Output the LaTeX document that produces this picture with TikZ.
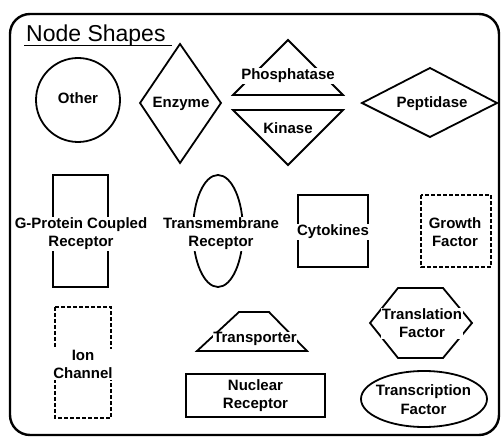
\documentclass[tikz,border=0pt]{standalone}
\usepackage{fontspec}
\setmainfont{Liberation Sans}
\begin{document}
\begin{tikzpicture}[x=1pt,y=-1pt,
  shp/.style={draw=black,line width=1.8pt,line join=miter},
  dsh/.style={shp,dash pattern=on 4pt off 2pt},
  lbl/.style={font=\bfseries\fontsize{15}{18.5}\selectfont,inner sep=0.8pt,fill=white,align=center,anchor=base},
  ttl/.style={font=\fontsize{23}{27}\selectfont,inner sep=0pt,anchor=base west}]
\useasboundingbox (0,0) rectangle (501,438);
% frame
\draw[line width=2.4pt,rounded corners=20pt] (10,14) rectangle (499,435);
\node[ttl] (title) at (26,42) {Node Shapes};
\draw[line width=1.8pt] (24,45.5) -- (172,45.5);
% Other
\draw[shp] (78,100) circle (42);
\node[lbl] (other) at (78,104) {Other};
% Enzyme
\draw[shp] (140,103) -- (180,44) -- (221,103) -- (180,163) -- cycle;
\node[lbl] (enzyme) at (181,108) {Enzyme};
% Phosphatase / Kinase
\draw[shp] (233,95) -- (288,40) -- (343,95) -- cycle;
\node[lbl] (phos) at (288,80) {Phosphatase};
\draw[shp] (233,110) -- (343,110) -- (288,165) -- cycle;
\node[lbl] (kinase) at (288,134) {Kinase};
% Peptidase
\draw[shp] (362,103) -- (430,68) -- (497,103) -- (430,137) -- cycle;
\node[lbl] (pept) at (432,108) {Peptidase};
% GPCR
\draw[shp] (53,175) rectangle (108,287);
\node[lbl] (gpcr) at (81,247) {G-Protein Coupled\\Receptor};
% Transmembrane
\draw[shp] (218,231) ellipse (25 and 56);
\node[lbl] (tm) at (221,247) {Transmembrane\\Receptor};
% Cytokines
\draw[shp] (298,195) rectangle (368,267);
\node[lbl] (cyto) at (333,236) {Cytokines};
% Growth factor
\draw[dsh] (421,195) rectangle (491,267);
\node[lbl] (growth) at (455,247) {Growth\\Factor};
% Ion channel
\draw[dsh] (55,307) rectangle (111,418);
\node[lbl] (ion) at (83,379) {Ion\\Channel};
% Transporter
\draw[shp] (197,351) -- (239,312) -- (269,312) -- (307,351) -- cycle;
\node[lbl] (transp) at (255,343) {Transporter};
% Nuclear receptor
\draw[shp] (186,374) rectangle (325,417);
\node[lbl] (nuc) at (255.5,409) {Nuclear\\Receptor};
% Translation factor
\draw[shp] (370,323) -- (398,288) -- (443,288) -- (472,323) -- (443,358) -- (398,358) -- cycle;
\node[lbl] (transl) at (422,338) {Translation\\Factor};
% Transcription factor
\draw[shp] (424,399) ellipse (63 and 28);
\node[lbl] (transc) at (423.5,414) {Transcription\\Factor};
\end{tikzpicture}
\end{document}
